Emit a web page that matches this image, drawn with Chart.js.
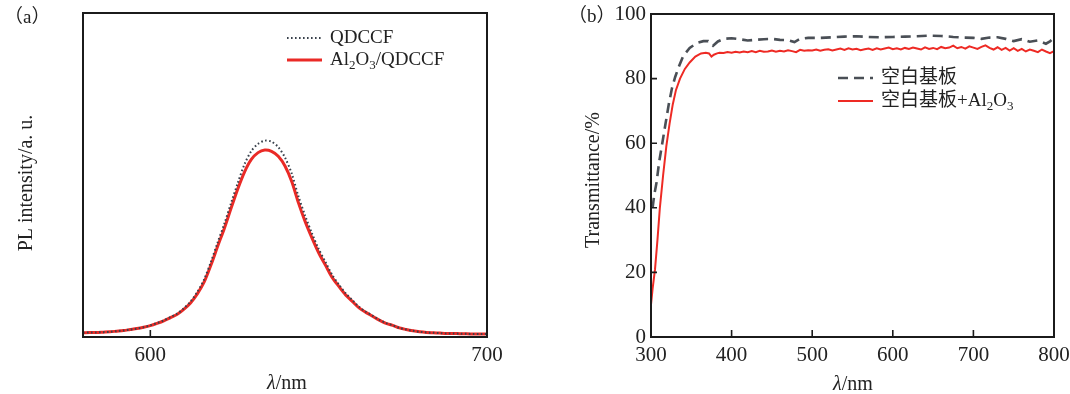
<!DOCTYPE html>
<html lang="zh">
<head>
<meta charset="UTF-8">
<title>PL 光谱与透过率</title>
<script src="https://cdn.jsdelivr.net/npm/chart.js"></script>
<style>
  html, body { margin: 0; padding: 0; background: #fff; }
  .wrap { position: relative; width: 1070px; height: 394px; overflow: hidden; }
  .panel { position: absolute; top: 0; height: 394px; }
  #boxA { left: 0; width: 535px; }
  #boxB { left: 530px; width: 540px; }
</style>
</head>
<body>
<div class="wrap">
  <div class="panel" id="boxA"><canvas id="chartA"></canvas></div>
  <div class="panel" id="boxB"><canvas id="chartB"></canvas></div>
</div>
<script>
// (a) PL 光谱
const plWave = [580, 582, 584, 586, 588, 590, 592, 594, 596, 598,
  600, 602, 604, 606, 608, 610, 612, 614, 616, 618,
  620, 622, 624, 626, 628, 630, 632, 634, 636, 638,
  640, 642, 644, 646, 648, 650, 652, 654, 656, 658,
  660, 662, 664, 666, 668, 670, 672, 674, 676, 678,
  680, 682, 684, 686, 688, 690, 692, 694, 696, 698, 700];
const plQdccf = [1.3, 1.4, 1.4, 1.5, 1.6, 1.8, 2.0, 2.3, 2.6, 3.0,
  3.6, 4.3, 5.1, 6.2, 7.2, 8.9, 11.0, 14.0, 17.8, 23.2,
  29.2, 35.0, 41.4, 47.6, 53.4, 57.4, 59.6, 60.6, 60.3, 58.6,
  55.4, 50.4, 43.4, 37.4, 32.0, 27.2, 23.2, 19.2, 16.2, 13.5,
  11.4, 9.3, 7.8, 6.6, 5.3, 4.3, 3.6, 2.8, 2.3, 1.9,
  1.6, 1.4, 1.3, 1.2, 1.1, 1.1, 1.0, 1.0, 0.9, 0.9, 0.9];
const plAlQdccf = [1.3, 1.4, 1.4, 1.5, 1.6, 1.8, 2.0, 2.3, 2.6, 3.0,
  3.5, 4.2, 5.0, 6.0, 7.0, 8.6, 10.6, 13.4, 17.0, 22.2,
  28.0, 33.6, 39.8, 45.8, 51.0, 54.8, 56.9, 57.7, 57.3, 55.8,
  52.8, 48.0, 41.4, 35.6, 30.6, 26.0, 22.2, 18.4, 15.6, 13.0,
  11.0, 9.0, 7.6, 6.4, 5.2, 4.2, 3.6, 2.8, 2.3, 1.9,
  1.6, 1.4, 1.3, 1.2, 1.1, 1.1, 1.0, 1.0, 0.9, 0.9, 0.9];
const plXTicks = [600, 700];

// (b) 透过率
const trWaveBlank = [302, 304, 307, 310, 314, 318, 322, 326, 330, 335,
  340, 348, 357, 365, 371, 377, 383, 390, 400, 410,
  420, 430, 440, 450, 460, 470, 478, 485, 495, 510,
  525, 540, 555, 570, 585, 600, 615, 630, 645, 660,
  675, 690, 700, 710, 720, 730, 740, 750, 760, 770,
  780, 790, 795, 800];
const trBlank = [40, 44, 48, 54, 60, 66, 72, 77, 80.5, 84,
  87, 89.5, 91, 91.6, 91.6, 90.2, 91.5, 92.3, 92.5, 92.2,
  91.8, 92.0, 92.2, 92.3, 92.0, 91.9, 91.3, 92.3, 92.6, 92.6,
  92.8, 93.0, 93.1, 92.9, 92.8, 92.9, 93.0, 93.1, 93.3, 93.2,
  92.9, 92.7, 92.6, 92.3, 92.7, 92.8, 92.3, 91.6, 92.2, 91.4,
  91.8, 90.8, 91.5, 92.7];
const trWaveAl = [300, 302, 305, 308, 311, 315, 319, 323, 327, 331,
  336, 342, 348, 355, 362, 368, 372, 375, 378, 382,
  385, 390, 395, 400, 405, 410, 415, 420, 425, 430,
  435, 440, 445, 450, 455, 460, 465, 470, 475, 480,
  485, 490, 495, 500, 505, 510, 515, 520, 525, 530,
  535, 540, 545, 550, 555, 560, 565, 570, 575, 580,
  585, 590, 595, 600, 605, 610, 615, 620, 625, 630,
  635, 640, 645, 650, 655, 660, 665, 670, 675, 680,
  685, 690, 695, 700, 705, 710, 715, 720, 725, 730,
  735, 740, 745, 750, 755, 760, 765, 770, 775, 780,
  785, 790, 795, 800];
const trAl = [10, 15, 21, 30, 40, 50, 59, 66, 72, 76.5,
  80, 83, 85, 86.8, 87.8, 88, 87.8, 86.8, 87.4, 87.8,
  88, 87.9, 88.2, 88, 88.3, 88.1, 88.4, 88.2, 88.5, 88.2,
  88.6, 88.3, 88.4, 88.7, 88.3, 88.6, 88.4, 88.8, 88.5, 88.2,
  88.9, 88.6, 88.8, 88.7, 89.0, 88.6, 88.9, 89.1, 88.7, 89.0,
  89.3, 88.9, 89.4, 89.0, 89.2, 88.8, 89.1, 89.3, 88.9, 89.4,
  89.0, 89.3, 89.6, 89.1, 89.4, 89.0, 89.5, 89.2, 89.6, 89.3,
  89.0, 89.7, 89.2, 89.5, 89.1, 89.8, 89.4, 89.6, 90.2, 89.4,
  89.8, 89.3, 90.0, 89.6, 89.2, 89.8, 90.3, 89.5, 89.0, 89.7,
  88.9, 89.5, 88.7, 89.4, 88.6, 89.2, 88.4, 89.0, 88.6, 88.2,
  89.0, 88.4, 87.9, 88.5];
const trXTicks = [300, 400, 500, 600, 700, 800];
const trYTicks = [0, 20, 40, 60, 80, 100];

const FONT = '"Liberation Serif", "Noto Sans CJK SC", serif';
const INK = '#222';

// "_" 后一个字符为下标
function splitRich(str) {
  const parts = [];
  for (let i = 0; i < str.length; i++) {
    const ch = str[i];
    if (ch === '_' && i + 1 < str.length) { parts.push({ t: str[i + 1], sub: true }); i++; }
    else if (parts.length && !parts[parts.length - 1].sub) parts[parts.length - 1].t += ch;
    else parts.push({ t: ch, sub: false });
  }
  return parts;
}

function drawParts(ctx, parts, x, y, size, align) {
  const fontOf = p => `${p.it ? 'italic ' : ''}${p.sub ? Math.round(size * 0.68) : size}px ${FONT}`;
  let w = 0;
  parts.forEach(p => { ctx.font = fontOf(p); w += ctx.measureText(p.t).width; });
  let cx = align === 'center' ? x - w / 2 : x;
  ctx.textAlign = 'left';
  ctx.textBaseline = 'middle';
  parts.forEach(p => {
    ctx.font = fontOf(p);
    ctx.fillText(p.t, cx, p.sub ? y + size * 0.3 : y);
    cx += ctx.measureText(p.t).width;
  });
}

// 边框、内向刻度、标题和图例
const decor = {
  id: 'decor',
  afterDraw(chart, args, o) {
    const { ctx, chartArea: a, scales: { x, y } } = chart;
    ctx.save();
    ctx.strokeStyle = '#1b1b1b';
    ctx.lineWidth = 2;
    ctx.strokeRect(a.left, a.top, a.right - a.left, a.bottom - a.top);
    ctx.lineWidth = 1.6;
    ctx.beginPath();
    x.ticks.forEach(t => {
      const px = x.getPixelForValue(t.value);
      if (px > a.left + 3 && px < a.right - 3) { ctx.moveTo(px, a.bottom); ctx.lineTo(px, a.bottom - 7); }
    });
    if (o.yTicks) {
      y.ticks.forEach(t => {
        const py = y.getPixelForValue(t.value);
        if (py > a.top + 3 && py < a.bottom - 3) { ctx.moveTo(a.left, py); ctx.lineTo(a.left + 6, py); }
      });
    }
    ctx.stroke();

    ctx.fillStyle = INK;
    drawParts(ctx, o.tag, o.tagX, o.tagY, 19, 'left');
    drawParts(ctx, o.xTitle, o.xTitleX, o.xTitleY, 20, 'center');
    ctx.save();
    ctx.translate(o.yTitleX, o.yTitleY);
    ctx.rotate(-Math.PI / 2);
    drawParts(ctx, o.yTitle, 0, 0, 20, 'center');
    ctx.restore();

    chart.data.datasets.forEach((ds, i) => {
      const ly = o.legY + i * o.legGap;
      ctx.save();
      ctx.strokeStyle = ds.borderColor;
      ctx.lineWidth = ds.borderWidth;
      ctx.setLineDash(ds.borderDash || []);
      ctx.beginPath();
      ctx.moveTo(o.legX, ly);
      ctx.lineTo(o.legX + 35, ly);
      ctx.stroke();
      ctx.restore();
      ctx.fillStyle = INK;
      drawParts(ctx, splitRich(ds.label), o.legX + 43, ly, 19, 'left');
    });
    ctx.restore();
  }
};

const toPts = (xs, ys) => xs.map((v, i) => ({ x: v, y: ys[i] }));

function axisX(min, max, tickList, height) {
  return {
    type: 'linear', min, max,
    grid: { display: false, drawTicks: false },
    border: { display: false },
    ticks: { font: { family: FONT, size: 21 }, color: INK, padding: 6, maxRotation: 0 },
    afterBuildTicks: s => { s.ticks = tickList.map(v => ({ value: v })); },
    afterFit: s => { s.height = height; s.paddingLeft = 0; s.paddingRight = 0; }
  };
}

new Chart(document.getElementById('chartA'), {
  type: 'line',
  data: {
    datasets: [
      { label: 'QDCCF', data: toPts(plWave, plQdccf), borderColor: '#39414c', borderWidth: 2,
        borderDash: [1.6, 2.4], pointRadius: 0, tension: 0.3 },
      { label: 'Al_2O_3/QDCCF', data: toPts(plWave, plAlQdccf), borderColor: '#ea2a26', borderWidth: 3,
        pointRadius: 0, tension: 0.3 }
    ]
  },
  options: {
    responsive: true, maintainAspectRatio: false, animation: false,
    layout: { padding: { left: 0, right: 48, top: 13, bottom: 0 } },
    scales: {
      x: axisX(580, 700, plXTicks, 57),
      y: {
        type: 'linear', min: 0, max: 100,
        grid: { display: false, drawTicks: false }, border: { display: false },
        ticks: { display: false },
        afterFit: s => { s.width = 83; s.paddingTop = 0; s.paddingBottom = 0; }
      }
    },
    plugins: {
      legend: { display: false }, tooltip: { enabled: false },
      decor: {
        tag: [{ t: '（' }, { t: 'a' }, { t: '）' }], tagX: 4, tagY: 18,
        xTitle: [{ t: 'λ', it: true }, { t: '/nm' }], xTitleX: 287, xTitleY: 384,
        yTitle: [{ t: 'PL intensity/a. u.' }], yTitleX: 27, yTitleY: 183,
        legX: 287, legY: 38, legGap: 22, yTicks: false
      }
    }
  },
  plugins: [decor]
});

new Chart(document.getElementById('chartB'), {
  type: 'line',
  data: {
    datasets: [
      { label: '空白基板', data: toPts(trWaveBlank, trBlank), borderColor: '#4a4f56', borderWidth: 2.6,
        borderDash: [10, 6], pointRadius: 0 },
      { label: '空白基板+Al_2O_3', data: toPts(trWaveAl, trAl), borderColor: '#ee2a24', borderWidth: 2,
        pointRadius: 0 }
    ]
  },
  options: {
    responsive: true, maintainAspectRatio: false, animation: false,
    layout: { padding: { left: 0, right: 16, top: 14, bottom: 0 } },
    scales: {
      x: axisX(300, 800, trXTicks, 57),
      y: {
        type: 'linear', min: 0, max: 100,
        grid: { display: false, drawTicks: false }, border: { display: false },
        ticks: { font: { family: FONT, size: 21 }, color: INK, padding: 5 },
        afterBuildTicks: s => { s.ticks = trYTicks.map(v => ({ value: v })); },
        afterFit: s => { s.width = 121; s.paddingTop = 0; s.paddingBottom = 0; }
      }
    },
    plugins: {
      legend: { display: false }, tooltip: { enabled: false },
      decor: {
        tag: [{ t: '（' }, { t: 'b' }, { t: '）' }], tagX: 38, tagY: 17,
        xTitle: [{ t: 'λ', it: true }, { t: '/nm' }], xTitleX: 323, xTitleY: 385,
        yTitle: [{ t: 'Transmittance/%' }], yTitleX: 64, yTitleY: 180,
        legX: 308, legY: 78, legGap: 23, yTicks: true
      }
    }
  },
  plugins: [decor]
});
</script>
</body>
</html>
